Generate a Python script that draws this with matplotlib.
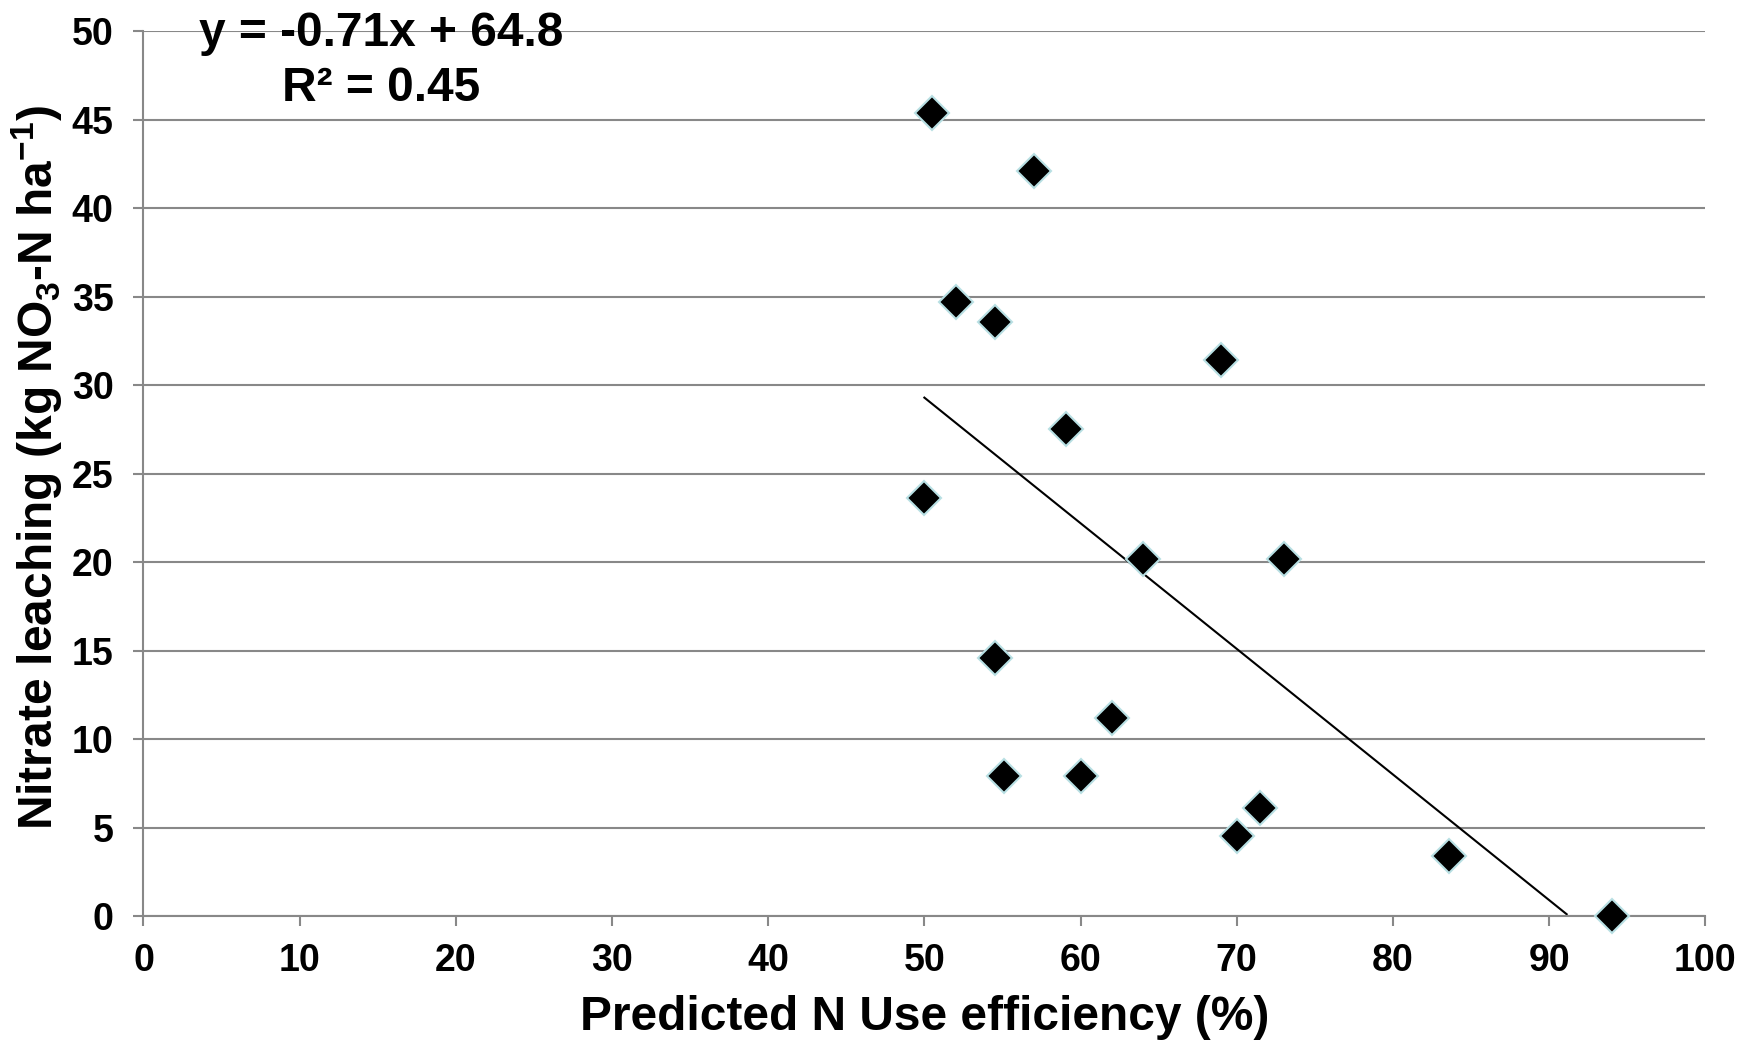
import numpy as np
import matplotlib.pyplot as plt

plt.rcParams['font.family'] = ['Liberation Sans', 'DejaVu Sans']
plt.rcParams['font.weight'] = 'bold'
plt.rcParams['mathtext.fontset'] = 'custom'
plt.rcParams['mathtext.rm'] = 'Liberation Sans:bold'
plt.rcParams['mathtext.bf'] = 'Liberation Sans:bold'

# data
nue = [50.5, 57.0, 52.0, 54.5, 69.0, 59.1, 50.0, 64.0, 73.0, 54.5,
       62.0, 55.1, 60.0, 71.5, 70.0, 83.6, 94.0]
leaching = [45.4, 42.1, 34.7, 33.6, 31.4, 27.5, 23.6, 20.2, 20.2, 14.6,
            11.2, 7.9, 7.9, 6.1, 4.5, 3.4, 0.0]
slope = -0.71
intercept = 64.8
r2 = 0.45

xticks = np.arange(0, 101, 10)
yticks = np.arange(0, 51, 5)

fig = plt.figure(figsize=(17.58, 10.46), dpi=100)
ax = fig.add_axes([0.0816, 0.1243, 0.8884, 0.8457])

ax.set_xlim(0, 100)
ax.set_ylim(0, 50)
ax.set_xticks(xticks)
ax.set_yticks(yticks)
ax.grid(axis='y', color='#888888', linewidth=1.5, zorder=0)
ax.set_axisbelow(True)

for s in ['top', 'right']:
    ax.spines[s].set_visible(False)
for s in ['left', 'bottom']:
    ax.spines[s].set_color('#888888')
    ax.spines[s].set_linewidth(1.5)

ax.tick_params(axis='both', length=7.5, width=1.5, color='#888888',
               labelsize=27)
ax.tick_params(axis='y', pad=14)
ax.tick_params(axis='x', pad=12)
for lab in ax.get_xticklabels() + ax.get_yticklabels():
    lab.set_fontweight('bold')

# trend line, clipped at y = 0
xl = np.linspace(min(nue), max(nue), 200)
yl = slope * xl + intercept
keep = yl >= 0
ax.plot(xl[keep], yl[keep], color='black', linewidth=1.5, zorder=2)

ax.plot(nue, leaching, linestyle='none', marker='D', markersize=17,
        markerfacecolor='black', markeredgecolor='#b8dfe3',
        markeredgewidth=1.5, zorder=3, clip_on=False)

fig.text(0.526, 0.027, 'Predicted N Use efficiency (%)', fontsize=34.5,
         fontweight='bold', ha='center', va='center')
fig.text(0.021, 0.553, r'Nitrate leaching (kg NO$_3$-N ha$^{-1}$)',
         fontsize=34.5, fontweight='bold', ha='center', va='center',
         rotation=90)

fig.text(0.2168, 0.956, 'y = %.2fx + %.1f' % (slope, intercept),
         fontsize=34.5, fontweight='bold', ha='center', va='baseline')
fig.text(0.2168, 0.9034, 'R² = %.2f' % r2, fontsize=34.5, fontweight='bold',
         ha='center', va='baseline')

fig.savefig('out.png', dpi=100)
